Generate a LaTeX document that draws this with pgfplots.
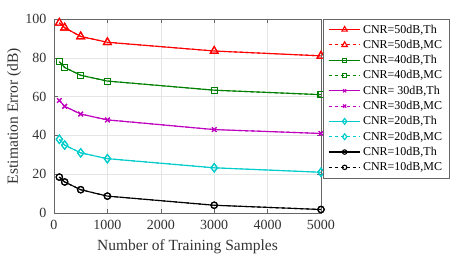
\documentclass[border=0pt]{standalone}
\usepackage{pgfplots}
\pgfplotsset{compat=1.18}
\usepackage{fontspec}
\setmainfont{Liberation Serif}
\definecolor{cG}{rgb}{0,0.5,0}
\definecolor{cM}{rgb}{0.75,0,0.75}
\definecolor{cC}{rgb}{0,0.8,0.8}
\begin{document}
\begin{tikzpicture}
\begin{axis}[
  scale only axis,
  width=267bp, height=194bp,
  xmin=0, xmax=5000, ymin=0, ymax=100,
  xtick={0,1000,2000,3000,4000,5000},
  ytick={0,20,40,60,80,100},
  scaled x ticks=false,
  /pgf/number format/assume math mode=true,
  /pgf/number format/1000 sep={},
  tick label style={font=\fontsize{14bp}{16bp}\selectfont, color=black!80},
  xticklabel style={yshift=-4bp},
  yticklabel style={xshift=-4bp},
  label style={font=\fontsize{15.5bp}{18bp}\selectfont, color=black!80},
  xlabel={Number of Training Samples},
  ylabel={Estimation Error (dB)},
  xlabel style={yshift=-3bp},
  ylabel style={yshift=-2.5bp},
  grid=major,
  major grid style={color=black!10, line width=0.5pt},
  axis line style={color=black!60},
  tick style={color=black!60},
  tick align=inside,
  legend style={at={(rel axis cs:1,1)}, anchor=north west, xshift=2bp,
    font=\fontsize{12bp}{14bp}\selectfont, draw=black!60, fill=white,
    row sep=1.5bp, inner xsep=5bp, inner ysep=3.5bp},
  legend cell align=left,
  legend image code/.code={
    \draw[mark repeat=2,mark phase=2, every mark/.append style={scale=0.7}] plot coordinates {(0cm,0cm) (0.56cm,0cm) (1.12cm,0cm)};
  },
  clip=false,
]
\coordinate (bl) at (rel axis cs:0,0);
\coordinate (tr) at (rel axis cs:1,1);
\addplot[red, line width=1.1bp, mark=triangle, mark size=4.5bp, mark options={solid}] coordinates {(100,98) (200,95.5) (500,91) (1000,88) (3000,83.5) (5000,81)};
\addlegendentry{CNR=50dB,Th}
\addplot[red, dashed, line width=1.1bp, mark=triangle, mark size=4.5bp, mark options={solid}] coordinates {(100,98) (200,95.5) (500,91) (1000,88) (3000,83.5) (5000,81)};
\addlegendentry{CNR=50dB,MC}
\addplot[cG, line width=1.1bp, mark=square, mark size=3bp, mark options={solid}] coordinates {(100,78) (200,75) (500,71) (1000,68) (3000,63.3) (5000,61)};
\addlegendentry{CNR=40dB,Th}
\addplot[cG, dashed, line width=1.1bp, mark=square, mark size=3bp, mark options={solid}] coordinates {(100,78) (200,75) (500,71) (1000,68) (3000,63.3) (5000,61)};
\addlegendentry{CNR=40dB,MC}
\addplot[cM, line width=1.1bp, mark=x, mark size=3.2bp, mark options={solid}] coordinates {(100,58) (200,55) (500,51) (1000,48) (3000,43) (5000,41)};
\addlegendentry{CNR= 30dB,Th}
\addplot[cM, dashed, line width=1.1bp, mark=x, mark size=3.2bp, mark options={solid}] coordinates {(100,58) (200,55) (500,51) (1000,48) (3000,43) (5000,41)};
\addlegendentry{CNR=30dB,MC}
\addplot[cC, line width=1.1bp, mark=diamond, mark size=4.2bp, mark options={solid}] coordinates {(100,38) (200,35) (500,31) (1000,28) (3000,23.3) (5000,21)};
\addlegendentry{CNR=20dB,Th}
\addplot[cC, dashed, line width=1.1bp, mark=diamond, mark size=4.2bp, mark options={solid}] coordinates {(100,38) (200,35) (500,31) (1000,28) (3000,23.3) (5000,21)};
\addlegendentry{CNR=20dB,MC}
\addplot[black, line width=1.1bp, mark=o, mark size=3.2bp, mark options={solid}] coordinates {(100,18.5) (200,16) (500,12) (1000,8.7) (3000,4) (5000,1.8)};
\addlegendentry{CNR=10dB,Th}
\addplot[black, dashed, line width=1.1bp, mark=o, mark size=3.2bp, mark options={solid}] coordinates {(100,18.5) (200,16) (500,12) (1000,8.7) (3000,4) (5000,1.8)};
\addlegendentry{CNR=10dB,MC}
\end{axis}
\pgfresetboundingbox
\path[use as bounding box] ([xshift=-54bp,yshift=-46bp]bl) rectangle ([xshift=142bp,yshift=19bp]tr);
\end{tikzpicture}
\end{document}
